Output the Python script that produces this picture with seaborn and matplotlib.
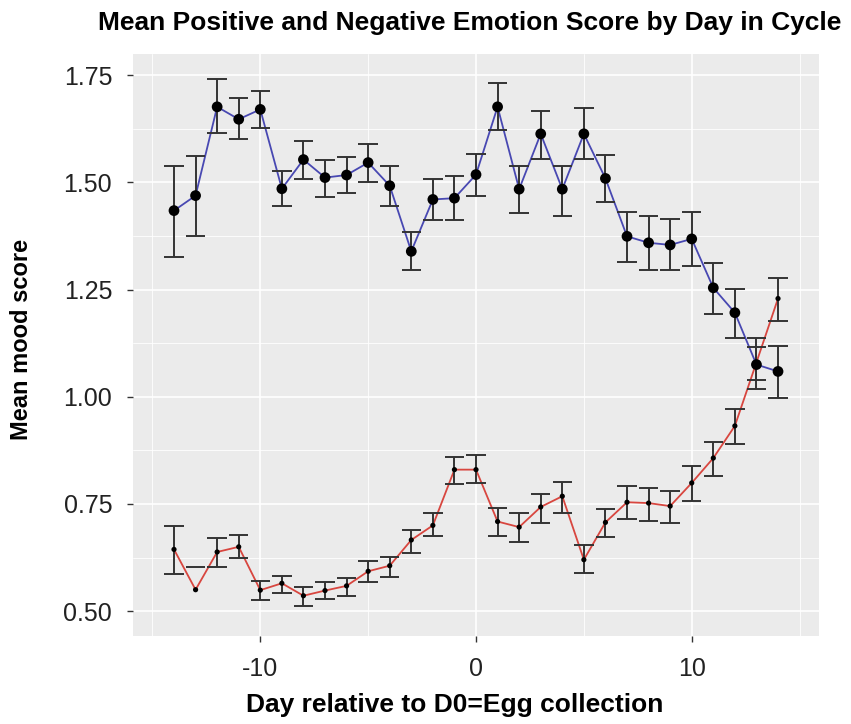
import numpy as np
import pandas as pd
import matplotlib
matplotlib.use("Agg")
import matplotlib.pyplot as plt
import seaborn as sns
from matplotlib.ticker import MultipleLocator


days = [-14, -13, -12, -11, -10, -9, -8, -7, -6, -5, -4, -3, -2, -1, 0,
        1, 2, 3, 4, 5, 6, 7, 8, 9, 10, 11, 12, 13, 14]

pos_mean = [1.434, 1.469, 1.676, 1.647, 1.670, 1.485, 1.553, 1.511, 1.517, 1.546,
            1.492, 1.339, 1.460, 1.463, 1.518, 1.676, 1.484, 1.613, 1.484, 1.613,
            1.509, 1.374, 1.359, 1.354, 1.368, 1.254, 1.196, 1.075, 1.059]
pos_lo = [1.326, 1.374, 1.615, 1.601, 1.626, 1.444, 1.507, 1.466, 1.476, 1.500,
          1.444, 1.295, 1.412, 1.412, 1.468, 1.621, 1.429, 1.555, 1.421, 1.555,
          1.454, 1.314, 1.295, 1.295, 1.304, 1.193, 1.136, 1.018, 0.996]
pos_hi = [1.539, 1.562, 1.740, 1.696, 1.714, 1.527, 1.597, 1.553, 1.558, 1.590,
          1.539, 1.383, 1.508, 1.514, 1.565, 1.731, 1.539, 1.667, 1.539, 1.673,
          1.564, 1.430, 1.421, 1.415, 1.430, 1.312, 1.252, 1.137, 1.118]

neg_mean = [0.644, 0.550, 0.638, 0.650, 0.549, 0.565, 0.536, 0.548, 0.559, 0.593,
            0.606, 0.666, 0.700, 0.830, 0.830, 0.709, 0.696, 0.743, 0.768, 0.620,
            0.707, 0.754, 0.752, 0.745, 0.799, 0.857, 0.932, 1.080, 1.229]
neg_lo = [0.587, np.nan, 0.602, 0.624, 0.526, 0.543, 0.512, 0.528, 0.535, 0.567,
          0.579, 0.636, 0.675, 0.797, 0.798, 0.676, 0.661, 0.705, 0.729, 0.589,
          0.673, 0.716, 0.711, 0.705, 0.756, 0.814, 0.890, 1.040, 1.176]
neg_hi = [0.699, 0.603, 0.671, 0.677, 0.571, 0.582, 0.557, 0.568, 0.578, 0.616,
          0.627, 0.690, 0.728, 0.860, 0.863, 0.741, 0.729, 0.774, 0.801, 0.654,
          0.738, 0.791, 0.788, 0.780, 0.839, 0.895, 0.971, 1.116, 1.276]

df = pd.concat([
    pd.DataFrame({"day": days, "score": pos_mean, "lo": pos_lo, "hi": pos_hi, "emotion": "Positive"}),
    pd.DataFrame({"day": days, "score": neg_mean, "lo": neg_lo, "hi": neg_hi, "emotion": "Negative"}),
], ignore_index=True)

sns.set_theme(style="darkgrid")
plt.rcParams['font.family'] = ['Liberation Sans', 'DejaVu Sans']
plt.rcParams['axes.unicode_minus'] = False

fig = plt.figure(figsize=(8.51, 7.24), dpi=100)
ax = fig.add_axes([0.1563, 0.1215, 0.8061, 0.8044])
ax.set_facecolor("#EBEBEB")

line_colors = {"Positive": "#4848B2", "Negative": "#D8463F"}
sns.lineplot(data=df, x="day", y="score", hue="emotion", palette=line_colors,
             linewidth=1.3, legend=False, ax=ax, zorder=2)

# error bars (ggplot style, cap width 0.9 day)
cap = 0.45
ax.vlines(df["day"], df["lo"], df["hi"], color="#333333", linewidth=1.4, zorder=3)
ax.hlines(df["lo"], df["day"] - cap, df["day"] + cap, color="#333333", linewidth=1.4, zorder=3)
ax.hlines(df["hi"], df["day"] - cap, df["day"] + cap, color="#333333", linewidth=1.4, zorder=3)

pos = df[df["emotion"] == "Positive"]
neg = df[df["emotion"] == "Negative"]
sns.scatterplot(data=pos, x="day", y="score", color="black", s=60,
                edgecolor="none", ax=ax, zorder=4)
sns.scatterplot(data=neg, x="day", y="score", color="black", s=14,
                edgecolor="none", ax=ax, zorder=4)

ax.set_xlim(-15.9, 15.9)
ax.set_ylim(0.442, 1.80)
ax.xaxis.set_major_locator(MultipleLocator(10))
ax.xaxis.set_minor_locator(MultipleLocator(5))
ax.yaxis.set_minor_locator(MultipleLocator(0.125))
ax.set_yticks([0.5, 0.75, 1.0, 1.25, 1.5, 1.75])
ax.set_yticklabels(["0.50", "0.75", "1.00", "1.25", "1.50", "1.75"])

ax.grid(which="major", color="white", linewidth=1.2)
ax.grid(which="minor", color="white", linewidth=0.6)
for s in ax.spines.values():
    s.set_visible(False)

ax.tick_params(axis="both", which="major", length=4, width=1, color="#333333",
               labelsize=18, labelcolor="#222222", bottom=True, left=True)
ax.tick_params(axis="x", which="major", pad=11)
ax.tick_params(axis="y", which="major", pad=11)
ax.tick_params(axis="both", which="minor", length=0)

ax.set_xlabel("Day relative to D0=Egg collection", fontsize=19, fontweight="bold",
              color="black")
ax.xaxis.set_label_coords(0.469, -0.097)
ax.set_ylabel("Mean mood score", fontsize=17, fontweight="bold", color="black")
ax.yaxis.set_label_coords(-0.146, 0.51)
fig.text(0.552, 0.968, "Mean Positive and Negative Emotion Score by Day in Cycle",
         ha="center", va="center", fontsize=19, fontweight="bold", color="black")

fig.savefig("out.png", dpi=100)
